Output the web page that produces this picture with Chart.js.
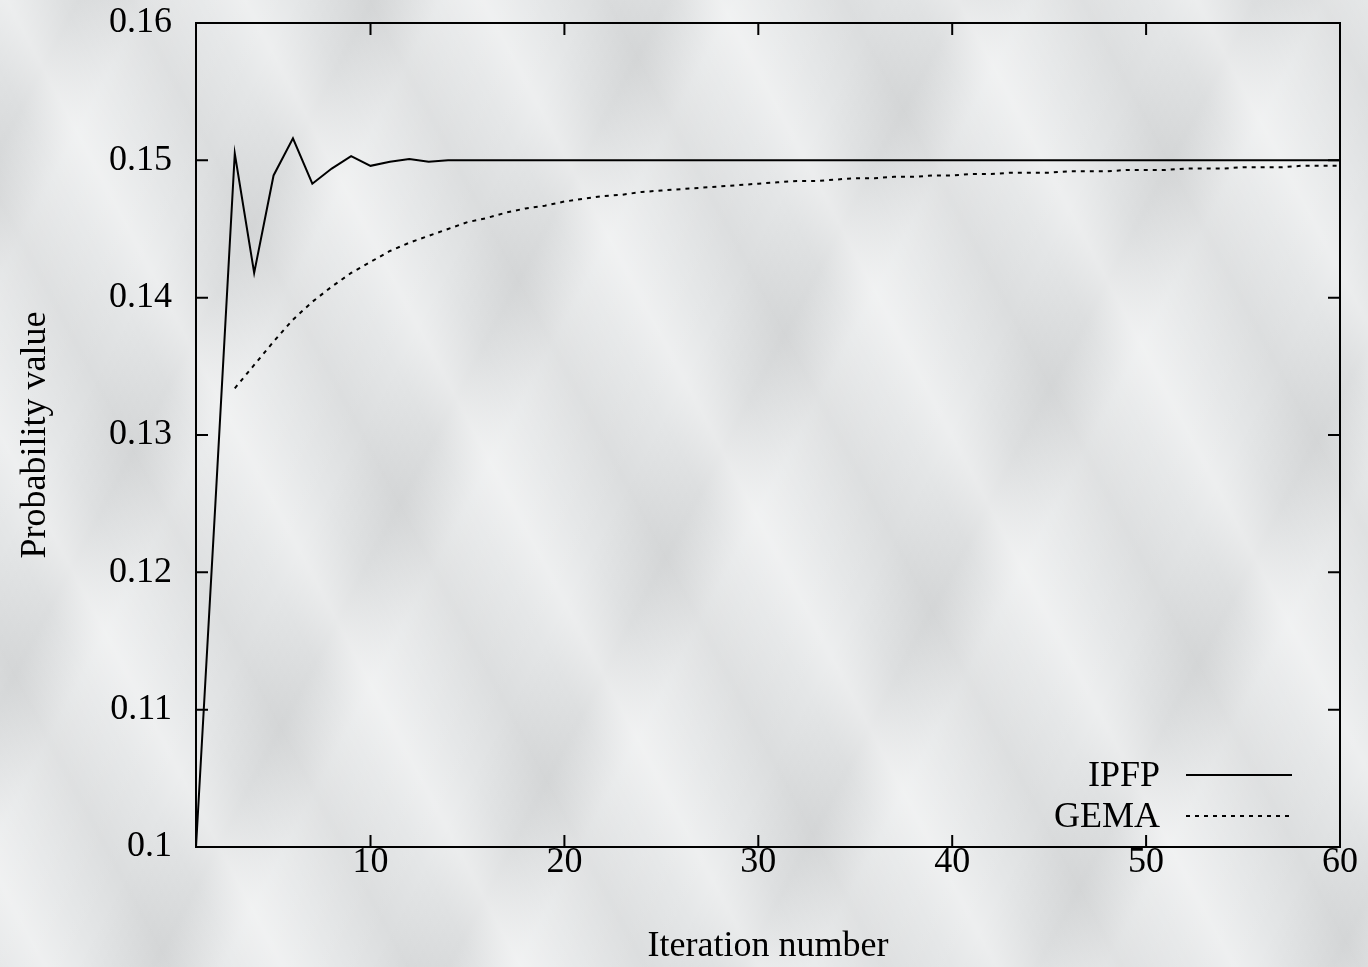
<!DOCTYPE html>
<html>
<head>
<meta charset="utf-8">
<script src="https://cdn.jsdelivr.net/npm/chart.js@4/dist/chart.umd.min.js"></script>
<style>
  html, body { margin: 0; padding: 0; background: #e6e8e9; }
  #wrap {
    width: 1368px; height: 967px; position: relative;
    /* rough crumpled-paper feel */
    background:
      repeating-linear-gradient(62deg, rgba(255,255,255,0) 0px, rgba(255,255,255,0.35) 40px, rgba(255,255,255,0) 90px, rgba(0,0,0,0.04) 150px, rgba(255,255,255,0) 210px),
      repeating-linear-gradient(118deg, rgba(0,0,0,0) 0px, rgba(0,0,0,0.035) 70px, rgba(255,255,255,0.2) 130px, rgba(0,0,0,0) 260px),
      #e4e6e7;
  }
</style>
</head>
<body>
<div id="wrap"><canvas id="myChart"></canvas></div>
<script>
// iteration numbers (x)
var iteraciones = [
  1, 2, 3, 4, 5, 6, 7, 8, 9, 10, 11, 12, 13, 14, 15,
  16, 17, 18, 19, 20, 21, 22, 23, 24, 25, 26, 27, 28, 29, 30,
  31, 32, 33, 34, 35, 36, 37, 38, 39, 40, 41, 42, 43, 44, 45,
  46, 47, 48, 49, 50, 51, 52, 53, 54, 55, 56, 57, 58, 59, 60
];

var ipfp = [
  0.1000, 0.1250, 0.1505, 0.1418, 0.1489, 0.1516, 0.1483, 0.1494, 0.1503, 0.1496, 0.1499, 0.1501, 0.1499, 0.1500, 0.1500,
  0.1500, 0.1500, 0.1500, 0.1500, 0.1500, 0.1500, 0.1500, 0.1500, 0.1500, 0.1500, 0.1500, 0.1500, 0.1500, 0.1500, 0.1500,
  0.1500, 0.1500, 0.1500, 0.1500, 0.1500, 0.1500, 0.1500, 0.1500, 0.1500, 0.1500, 0.1500, 0.1500, 0.1500, 0.1500, 0.1500,
  0.1500, 0.1500, 0.1500, 0.1500, 0.1500, 0.1500, 0.1500, 0.1500, 0.1500, 0.1500, 0.1500, 0.1500, 0.1500, 0.1500, 0.1500
];

var gema = [
  null, null, 0.1334, 0.1351, 0.1368, 0.1384, 0.1397, 0.1408, 0.1418, 0.1426, 0.1434, 0.1440, 0.1445, 0.1450, 0.1455,
  0.1458, 0.1462, 0.1465, 0.1467, 0.1470, 0.1472, 0.1474, 0.1475, 0.1477, 0.1478, 0.1479, 0.1480, 0.1481, 0.1482, 0.1483,
  0.1484, 0.1485, 0.1485, 0.1486, 0.1487, 0.1487, 0.1488, 0.1488, 0.1489, 0.1489, 0.1490, 0.1490, 0.1491, 0.1491, 0.1491,
  0.1492, 0.1492, 0.1492, 0.1493, 0.1493, 0.1493, 0.1494, 0.1494, 0.1494, 0.1495, 0.1495, 0.1495, 0.1496, 0.1496, 0.1496
];

var nombres = ['IPFP', 'GEMA'];

var xTicks = [10, 20, 30, 40, 50, 60];
var xTickLabels = ['10', '20', '30', '40', '50', '60'];
var yTicks = [0.10, 0.11, 0.12, 0.13, 0.14, 0.15, 0.16];
var yTickLabels = ['0.1', '0.11', '0.12', '0.13', '0.14', '0.15', '0.16'];

const FUENTE = "'Liberation Serif', 'Times New Roman', serif";
const TAM = 36;

function puntos(ys) {
  return iteraciones.map((it, i) => ({ x: it, y: ys[i] }));
}

// frame, inward ticks (gnuplot look) and legend inside the plot
const marco = {
  id: 'marco',
  afterDatasetsDraw(chart) {
    const { ctx, chartArea: a, scales: { x, y } } = chart;
    const largo = 12;
    ctx.save();
    ctx.strokeStyle = '#000';
    ctx.lineWidth = 2;
    ctx.setLineDash([]);
    ctx.strokeRect(a.left, a.top, a.right - a.left, a.bottom - a.top);
    ctx.beginPath();
    xTicks.forEach(v => {
      const px = x.getPixelForValue(v);
      ctx.moveTo(px, a.bottom); ctx.lineTo(px, a.bottom - largo);
      ctx.moveTo(px, a.top); ctx.lineTo(px, a.top + largo);
    });
    yTicks.forEach(v => {
      const py = y.getPixelForValue(v);
      ctx.moveTo(a.left, py); ctx.lineTo(a.left + largo, py);
      ctx.moveTo(a.right, py); ctx.lineTo(a.right - largo, py);
    });
    ctx.stroke();

    // legend
    ctx.font = TAM + 'px ' + FUENTE;
    ctx.fillStyle = '#000';
    ctx.textAlign = 'right';
    ctx.textBaseline = 'middle';
    chart.data.datasets.forEach((ds, i) => {
      const fy = a.bottom - 72 + i * 41;
      ctx.fillText(ds.label, a.right - 180, fy + 2);
      ctx.beginPath();
      ctx.lineWidth = ds.borderWidth;
      ctx.setLineDash(ds.borderDash || []);
      ctx.moveTo(a.right - 154, fy);
      ctx.lineTo(a.right - 48, fy);
      ctx.stroke();
    });
    ctx.restore();
  }
};

function chart() {
  var ctx = document.getElementById('myChart');
  new Chart(ctx, {
    type: 'line',
    data: {
      datasets: [
        {
          label: nombres[0],
          data: puntos(ipfp),
          borderColor: '#000',
          borderWidth: 2,
          pointRadius: 0,
          tension: 0,
          fill: false
        },
        {
          label: nombres[1],
          data: puntos(gema),
          borderColor: '#000',
          borderWidth: 2,
          borderDash: [4, 5],
          pointRadius: 0,
          tension: 0,
          fill: false
        }
      ]
    },
    options: {
      responsive: true,
      maintainAspectRatio: false,
      animation: false,
      layout: { padding: { top: 0, right: 28, left: 0, bottom: 0 } },
      plugins: {
        legend: { display: false },
        tooltip: { enabled: false }
      },
      scales: {
        x: {
          type: 'linear',
          min: 1,
          max: 60,
          grid: { display: false },
          border: { display: false },
          afterBuildTicks: s => { s.ticks = xTicks.map(v => ({ value: v })); },
          afterFit: s => { s.height = 120; },
          ticks: {
            padding: -14,
            maxRotation: 0,
            color: '#000',
            font: { family: FUENTE, size: TAM },
            callback: (v, i) => xTickLabels[i]
          },
          title: {
            display: true,
            text: 'Iteration number',
            color: '#000',
            font: { family: FUENTE, size: TAM, lineHeight: 1.0 },
            padding: { bottom: 2, top: 0 }
          }
        },
        y: {
          min: 0.1,
          max: 0.16,
          grid: { display: false },
          border: { display: false },
          afterBuildTicks: s => { s.ticks = yTicks.map(v => ({ value: v })); },
          afterFit: s => { s.width = 196; s.paddingTop = 23; },
          ticks: {
            padding: 16,
            color: '#000',
            font: { family: FUENTE, size: TAM, lineHeight: 0.5 },
            callback: (v, i) => yTickLabels[i]
          },
          title: {
            display: true,
            text: 'Probability value',
            color: '#000',
            font: { family: FUENTE, size: TAM },
            padding: { top: 14, bottom: 0 }
          }
        }
      }
    },
    plugins: [marco]
  });
}

window.addEventListener('DOMContentLoaded', () => { chart(); });
</script>
</body>
</html>
